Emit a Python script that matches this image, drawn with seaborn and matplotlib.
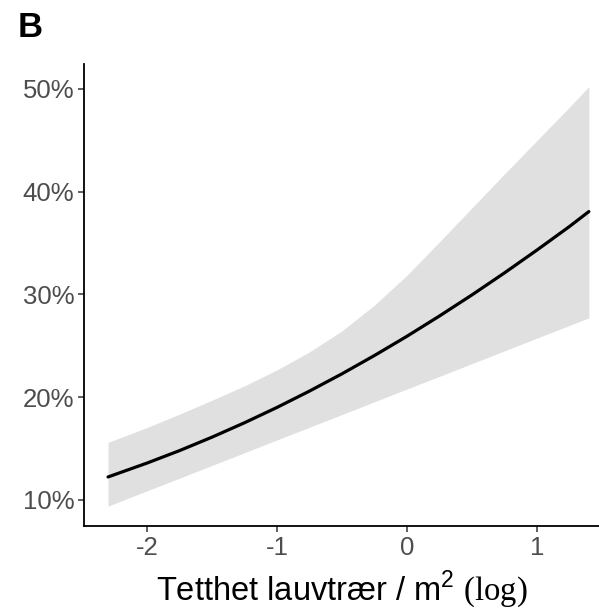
import numpy as np
import pandas as pd
import seaborn as sns
import matplotlib.pyplot as plt

# predicted proportion vs log density of deciduous trees
x_vals = [-2.3, -2.0, -1.75, -1.5, -1.25, -1.0, -0.75, -0.5, -0.25,
          0.0, 0.25, 0.5, 0.75, 1.0, 1.25, 1.4]
fit = [0.1224, 0.1359, 0.1480, 0.1611, 0.1751, 0.1900, 0.2059, 0.2227, 0.2405,
       0.2592, 0.2789, 0.2994, 0.3208, 0.3430, 0.3659, 0.3805]
lower = [0.0940, 0.1089, 0.1212, 0.1336, 0.1460, 0.1584, 0.1707, 0.1831, 0.1955,
         0.2079, 0.2202, 0.2326, 0.2450, 0.2574, 0.2697, 0.2772]
upper = [0.1560, 0.1705, 0.1835, 0.1970, 0.2110, 0.2265, 0.2440, 0.2645, 0.2895,
         0.3185, 0.3510, 0.3840, 0.4170, 0.4495, 0.4820, 0.5020]
y_ticks = [0.1, 0.2, 0.3, 0.4, 0.5]
x_ticks = [-2, -1, 0, 1]

df = pd.DataFrame({"x": x_vals, "fit": fit, "lo": lower, "hi": upper})

sns.set_style("ticks")
plt.rcParams["font.family"] = ["Liberation Sans", "DejaVu Sans"]
plt.rcParams["mathtext.fontset"] = "custom"
plt.rcParams["mathtext.rm"] = "Liberation Serif"
plt.rcParams["mathtext.sf"] = "Liberation Sans"

fig = plt.figure(figsize=(5.99, 6.16), dpi=100)
ax = fig.add_axes([84 / 599, 90 / 616, 515 / 599, 462 / 616])

# confidence band + fitted curve
ax.fill_between(df.x, df.lo, df.hi, color="#E0E0E0", linewidth=0)
sns.lineplot(data=df, x="x", y="fit", color="black", linewidth=2.3, ax=ax)

ax.set_xlim(-2.485, 1.478)
ax.set_ylim(0.0747, 0.524)
ax.set_xticks(x_ticks)
ax.set_xticklabels([str(t) for t in x_ticks])
ax.set_yticks(y_ticks)
ax.set_yticklabels([f"{int(round(t * 100))}%" for t in y_ticks])
ax.tick_params(colors="#333333", labelcolor="#4D4D4D", labelsize=18.5,
               length=4.5, width=1.1, pad=2.5)

for s in ["top", "right"]:
    ax.spines[s].set_visible(False)
for s in ["left", "bottom"]:
    ax.spines[s].set_linewidth(1.3)
    ax.spines[s].set_color("black")

ax.set_ylabel("")
ax.set_xlabel(r"Tetthet lauvtrær / m$^\mathsf{2}$ $\mathrm{(log)}$",
              fontsize=23.5, color="black", labelpad=6)

fig.text(18 / 599, 1 - 37 / 616, "B", fontsize=25, fontweight="bold", color="black")

fig.savefig("out.png", dpi=100)
